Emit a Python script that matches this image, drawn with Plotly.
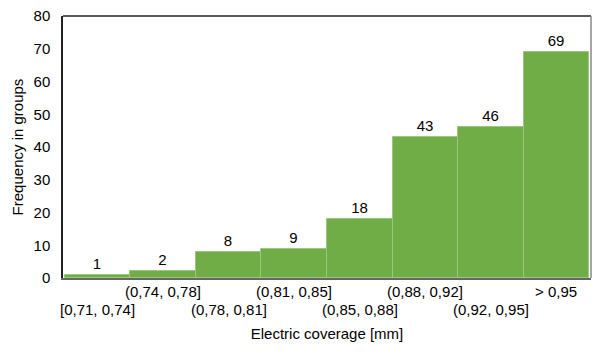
import plotly.graph_objects as go

categories = ["[0,71, 0,74]", "(0,74, 0,78]", "(0,78, 0,81]", "(0,81, 0,85]",
              "(0,85, 0,88]", "(0,88, 0,92]", "(0,92, 0,95]", "> 0,95"]
values = [1, 2, 8, 9, 18, 43, 46, 69]
y_ticks = [0, 10, 20, 30, 40, 50, 60, 70, 80]

FONT = "Liberation Sans, Arial, sans-serif"
x_pos = list(range(len(categories)))

fig = go.Figure()
fig.add_trace(go.Bar(
    x=x_pos, y=values,
    marker=dict(color="#70ad47", line=dict(color="#9cc87e", width=1)),
    text=[str(v) for v in values], textposition="outside",
    textfont=dict(size=15, color="#000000", family=FONT),
    cliponaxis=False, width=1, hoverinfo="skip",
))

# alternating two-row category labels
for i, c in enumerate(categories):
    fig.add_annotation(x=i, y=0, xref="x", yref="paper", text=c, showarrow=False,
                       yanchor="top", yshift=-3 if i % 2 == 1 else -21,
                       font=dict(size=15, color="#000000", family=FONT))

fig.update_layout(
    width=600, height=360,
    margin=dict(l=63, r=9, t=16, b=82),
    paper_bgcolor="white", plot_bgcolor="white",
    bargap=0, showlegend=False,
    font=dict(family=FONT, size=15, color="#000000"),
    xaxis=dict(range=[-0.53, 7.53], showticklabels=False, showgrid=False, zeroline=False,
               showline=True, linecolor="#666666", linewidth=1.5, mirror=False,
               automargin=False,
               title=dict(text="Electric coverage [mm]", standoff=50, font=dict(size=15))),
    yaxis=dict(range=[0, 80], tickvals=y_ticks, showgrid=False, zeroline=False,
               showline=True, linecolor="#222222", linewidth=1.5,
               ticks="", ticklabelstandoff=8, automargin=False,
               tickfont=dict(size=15),
               title=dict(text="Frequency in groups", standoff=6, font=dict(size=15))),
)
# top and right frame lines
fig.add_shape(type="line", xref="paper", yref="paper", x0=0, x1=1, y0=1, y1=1,
              line=dict(color="#222222", width=1.5))
fig.add_shape(type="line", xref="paper", yref="paper", x0=1, x1=1, y0=0, y1=1,
              line=dict(color="#888888", width=1.5))

fig.write_html("out.html", config={"displayModeBar": False},
               post_script="document.body.style.margin='0';")
